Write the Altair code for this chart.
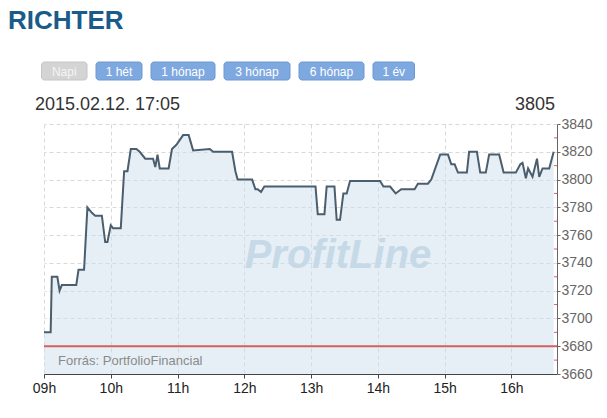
import altair as alt
import pandas as pd

# ---- data ----
times = ["09:00", "09:06", "09:07", "09:12", "09:14", "09:16", "09:29", "09:31", "09:36", "09:39",
         "09:43", "09:46", "09:52", "09:55", "09:57", "10:00", "10:02", "10:09", "10:12", "10:15",
         "10:18", "10:23", "10:26", "10:31", "10:38", "10:40", "10:42", "10:44", "10:52", "10:55",
         "10:59", "11:05", "11:10", "11:14", "11:29", "11:32", "11:49", "11:52", "11:54", "12:07",
         "12:10", "12:12", "12:15", "12:18", "13:04", "13:06", "13:12", "13:14", "13:21", "13:23",
         "13:26", "13:29", "13:32", "13:35", "14:02", "14:05", "14:11", "14:16", "14:21", "14:33",
         "14:36", "14:45", "14:48", "14:56", "15:03", "15:06", "15:09", "15:12", "15:20", "15:22",
         "15:29", "15:32", "15:37", "15:40", "15:49", "15:53", "16:04", "16:08", "16:10", "16:13",
         "16:15", "16:19", "16:23", "16:25", "16:28", "16:34", "16:38"]
prices = [3690, 3690, 3730, 3730, 3720, 3724, 3724, 3735, 3735, 3780,
          3776, 3774, 3774, 3755, 3755, 3767, 3765, 3765, 3806, 3806,
          3822, 3822, 3820, 3815, 3815, 3809, 3818, 3808, 3808, 3822,
          3825, 3832, 3832, 3821, 3822, 3820, 3820, 3806, 3800, 3800,
          3793, 3793, 3791, 3795, 3795, 3775, 3775, 3795, 3795, 3771,
          3771, 3790, 3790, 3799, 3799, 3795, 3795, 3790, 3793, 3793,
          3797, 3797, 3800, 3818, 3818, 3811, 3811, 3805, 3805, 3820,
          3820, 3805, 3805, 3818, 3818, 3805, 3805, 3811, 3812, 3801,
          3808, 3802, 3815, 3802, 3808, 3808, 3820]
hour_ticks = [9, 10, 11, 12, 13, 14, 15, 16]
x_domain = [9, 16.683]
y_ticks = [3660, 3680, 3700, 3720, 3740, 3760, 3780, 3800, 3820, 3840]
minor_ticks = [3670, 3690, 3710, 3730, 3750, 3770, 3790, 3810, 3830]
ref_price = [3680]
buttons = ["Napi", "1 hét", "1 hónap", "3 hónap", "6 hónap", "1 év"]
title_text = ["RICHTER"]
date_text = ["2015.02.12. 17:05"]
last_text = ["3805"]
source_text = ["Forrás: PortfolioFinancial"]
watermark_text = ["ProfitLine"]

df = pd.DataFrame({
    "hour": [int(t[:2]) + int(t[3:]) / 60 for t in times],
    "price": prices,
})

W, H = 513, 250
FONT = "Liberation Sans, Arial, sans-serif"

x_scale = alt.Scale(domain=x_domain, nice=False, zero=False)
y_scale = alt.Scale(domain=[y_ticks[0], y_ticks[-1]], nice=False, zero=False)

x_axis = alt.Axis(values=hour_ticks, title=None,
                  labelExpr="(datum.value < 10 ? '0' : '') + datum.value + 'h'",
                  grid=True, gridDash=[4, 3], gridColor="#d9d9d9",
                  domainColor="#444444", tickColor="#444444", tickSize=4,
                  labelFontSize=14, labelColor="#222222", labelFont=FONT,
                  labelPadding=3, labelFlush=False)
y_axis = alt.Axis(values=y_ticks, title=None, orient="right", format="d",
                  grid=True, gridDash=[4, 3], gridColor="#d9d9d9",
                  domainColor="#666666", tickColor="#666666", tickSize=3,
                  labelFontSize=14, labelColor="#666666", labelFont=FONT,
                  labelPadding=1)

X = alt.X("hour:Q", scale=x_scale, axis=x_axis)
Y = alt.Y("price:Q", scale=y_scale, axis=y_axis)

area = alt.Chart(df).mark_area(color="#cfe0ee", opacity=0.5).encode(
    x=X, y=Y, y2=alt.datum(y_ticks[0]))

line = alt.Chart(df).mark_line(color="#4b5e6e", strokeWidth=2).encode(x=X, y=Y)

ref_rule = alt.Chart(pd.DataFrame({"price": ref_price})).mark_rule(
    color="#d2605c", strokeWidth=2).encode(y=Y)

minor = alt.Chart(pd.DataFrame({"price": minor_ticks})).mark_rule(
    color="#d9605a", strokeWidth=1).encode(y=Y, x=alt.value(W - 3), x2=alt.value(W))


def label(text, **kw):
    style = dict(font=FONT)
    style.update({k: v for k, v in kw.items() if k not in ("x", "y")})
    return alt.Chart(pd.DataFrame({"t": text})).mark_text(**style).encode(
        text="t:N", x=alt.value(kw["x"]), y=alt.value(kw["y"]))


layers = [area, line, ref_rule, minor]

# watermark and source note
layers.append(label(watermark_text, x=294, y=144, fontSize=40, fontWeight="bold",
                    fontStyle="italic", color="#c6d9e7", align="center", baseline="alphabetic"))
layers.append(label(source_text, x=14, y=241, fontSize=13, color="#8a8a8a",
                    align="left", baseline="alphabetic"))

# header
layers.append(label(title_text, x=-36, y=-95, fontSize=26, fontWeight="bold",
                    color="#1a5b8a", align="left", baseline="alphabetic"))
layers.append(label(date_text, x=-9, y=-14, fontSize=18, color="#333333",
                    align="left", baseline="alphabetic"))
layers.append(label(last_text, x=W - 2, y=-14, fontSize=18, color="#333333",
                    align="right", baseline="alphabetic"))

# period buttons
btn_widths = [45.5, 46, 64, 66, 65, 41.5]
gap = 9
bx = -2.5
for name, bw in zip(buttons, btn_widths):
    active = name == buttons[0]
    fill = "#d4d4d4" if active else "#7ea8e0"
    stroke = "#c6c6c6" if active else "#6e98d2"
    txt = "#f4f4f4" if active else "#ffffff"
    rect = alt.Chart(pd.DataFrame({"t": [name]})).mark_rect(
        cornerRadius=3, fill=fill, stroke=stroke, strokeWidth=1).encode(
        x=alt.value(bx), x2=alt.value(bx + bw), y=alt.value(-62), y2=alt.value(-44))
    layers.append(rect)
    layers.append(label([name], x=bx + bw / 2, y=-52.5, fontSize=12, color=txt,
                        align="center", baseline="middle"))
    bx += bw + gap

chart = alt.layer(*layers).properties(
    width=W, height=H,
    autosize=alt.AutoSizeParams(type="none"),
    padding={"left": 36, "top": 116, "right": 42, "bottom": 36},
    background="#ffffff",
).configure_view(stroke=None)

chart.save("out.html", embed_options={"renderer": "svg", "actions": False})
